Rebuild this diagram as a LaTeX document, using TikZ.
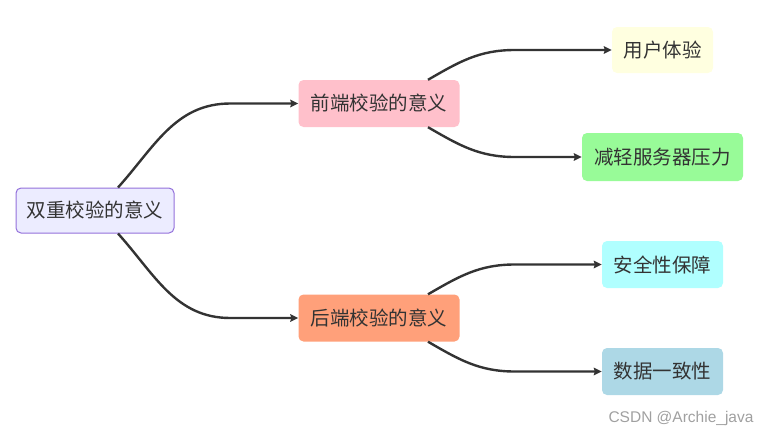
\documentclass[tikz,border=0pt]{standalone}
\usepackage{fontspec}
\setmainfont{Noto Sans CJK SC}
\newfontfamily\markfont{Liberation Sans}
\usetikzlibrary{arrows.meta}
\definecolor{txt}{HTML}{333333}
\begin{document}
\begin{tikzpicture}[x=1pt, y=-1pt,
                    box/.style={rounded corners=5pt, inner sep=0pt, text=txt,
                      font=\fontsize{19.5}{22}\selectfont},
                    edge/.style={draw=txt, line width=2.4pt,
                      -{Stealth[length=8pt, width=7.5pt, inset=1pt]}}]
  \useasboundingbox (0,0) rectangle (769,437);
  % nodes
  \node[box, fill={rgb,255:red,236;green,236;blue,255}, draw={rgb,255:red,147;green,112;blue,219},
        line width=1pt, minimum width=158pt, minimum height=45pt] (root) at (95,210.5) {双重校验的意义};
  \node[box, fill={rgb,255:red,255;green,192;blue,203}, minimum width=161pt, minimum height=47pt] (front) at (379,103.5) {前端校验的意义};
  \node[box, fill={rgb,255:red,255;green,160;blue,122}, minimum width=161pt, minimum height=47pt] (back) at (379,318) {后端校验的意义};
  \node[box, fill={rgb,255:red,255;green,255;blue,224}, minimum width=101pt, minimum height=46pt] (ux) at (662.5,50) {用户体验};
  \node[box, fill={rgb,255:red,152;green,251;blue,152}, minimum width=161pt, minimum height=48pt] (load) at (662.5,157) {减轻服务器压力};
  \node[box, fill={rgb,255:red,176;green,255;blue,255}, minimum width=121pt, minimum height=47pt] (safe) at (662.5,264.5) {安全性保障};
  \node[box, fill={rgb,255:red,173;green,216;blue,230}, minimum width=121pt, minimum height=47pt] (consist) at (662.5,371.5) {数据一致性};
  % connectors
  \draw[edge] ([xshift=23pt]root.north) to[out=48, in=180] ([xshift=-68pt]front.west) -- (front.west);
  \draw[edge] ([xshift=23pt]root.south) to[out=-48, in=180] ([xshift=-68pt]back.west) -- (back.west);
  \draw[edge] ([xshift=49pt]front.north) to[out=30, in=180] ([xshift=-97pt]ux.west) -- (ux.west);
  \draw[edge] ([xshift=49pt]front.south) to[out=-30, in=180] ([xshift=-67pt]load.west) -- (load.west);
  \draw[edge] ([xshift=49pt]back.north) to[out=30, in=180] ([xshift=-87pt]safe.west) -- (safe.west);
  \draw[edge] ([xshift=49pt]back.south) to[out=-30, in=180] ([xshift=-87pt]consist.west) -- (consist.west);
  % watermark
  \node[text={rgb,255:red,160;green,160;blue,160}, font=\markfont\fontsize{15.5}{18}\selectfont] (mark) at (681,418) {CSDN @Archie\_java};
\end{tikzpicture}
\end{document}
